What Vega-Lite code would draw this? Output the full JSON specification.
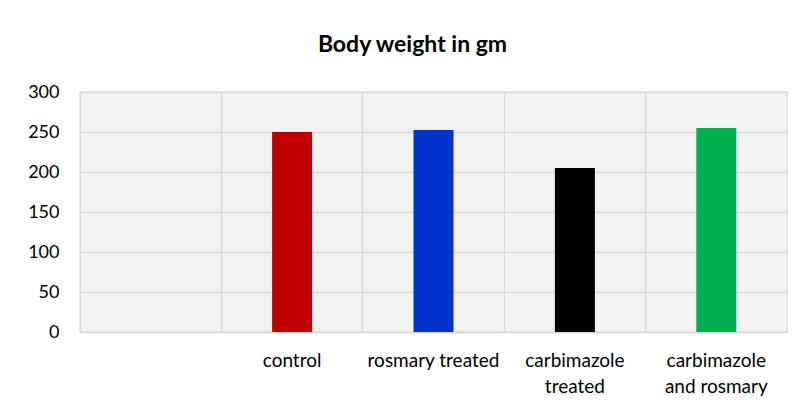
{
  "$schema": "https://vega.github.io/schema/vega-lite/v6.json",
  "autosize": {"type": "none"},
  "width": 707,
  "height": 240,
  "padding": {"left": 80, "top": 92, "right": 17, "bottom": 77},
  "background": "white",
  "title": {
    "text": "Body weight in gm",
    "font": "Lato",
    "fontSize": 23,
    "fontWeight": "bold",
    "color": "#000000",
    "anchor": "middle",
    "offset": 26,
    "dx": -21
  },
  "config": {
    "view": {"stroke": "#d9d9d9", "strokeWidth": 1.3, "fill": "#f2f2f2"},
    "font": "Lato"
  },
  "data": {
    "values": [
      {"group": "control", "weight": 250},
      {"group": "rosmary treated", "weight": 252.5},
      {"group": "carbimazole treated", "weight": 205},
      {"group": "carbimazole and rosmary", "weight": 255}
    ]
  },
  "mark": {"type": "bar", "width": 40},
  "encoding": {
    "x": {
      "field": "group",
      "type": "nominal",
      "scale": {
        "domain": ["", "control", "rosmary treated", "carbimazole treated", "carbimazole and rosmary"],
        "paddingInner": 0,
        "paddingOuter": 0
      },
      "axis": {
        "title": null,
        "labelAngle": 0,
        "labelFont": "Lato",
        "labelFontSize": 19,
        "labelColor": "#000000",
        "labelPadding": 19,
        "labelBaseline": "top",
        "labelLineHeight": 26,
        "labelLimit": 0,
        "ticks": false,
        "domainColor": "#d9d9d9",
        "domainWidth": 1.3,
        "grid": true,
        "gridColor": "#d9d9d9",
        "gridWidth": 1.3,
        "bandPosition": 0,
        "labelExpr": "datum.label == 'carbimazole treated' ? ['carbimazole', 'treated'] : datum.label == 'carbimazole and rosmary' ? ['carbimazole', 'and rosmary'] : datum.label"
      }
    },
    "y": {
      "field": "weight",
      "type": "quantitative",
      "scale": {"domain": [0, 300], "nice": false},
      "axis": {
        "title": null,
        "values": [0, 50, 100, 150, 200, 250, 300],
        "labelFont": "Lato",
        "labelFontSize": 18,
        "labelColor": "#000000",
        "labelPadding": 21,
        "ticks": false,
        "domain": false,
        "grid": true,
        "gridColor": "#d9d9d9",
        "gridWidth": 1.3
      }
    },
    "color": {
      "field": "group",
      "type": "nominal",
      "scale": {
        "domain": ["control", "rosmary treated", "carbimazole treated", "carbimazole and rosmary"],
        "range": ["#c00000", "#0033cc", "#000000", "#00b050"]
      },
      "legend": null
    }
  }
}
